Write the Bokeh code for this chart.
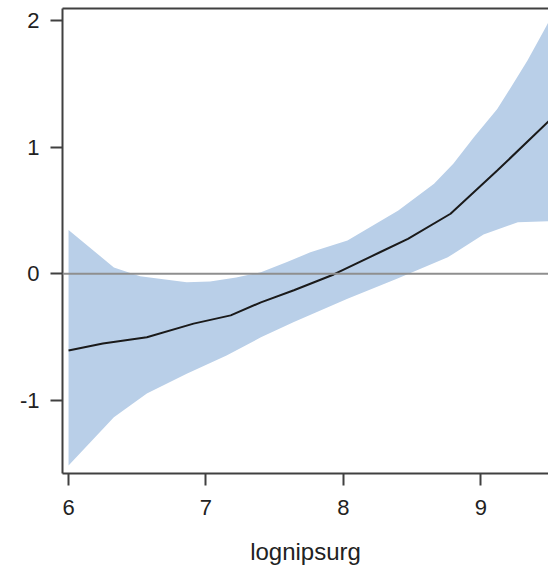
from bokeh.plotting import figure
from bokeh.models import Range1d, LinearAxis, FixedTicker, Span
from bokeh.embed import file_html
from bokeh.resources import INLINE

# Data
x_mean = [6.0, 6.25, 6.57, 6.91, 7.18, 7.40, 7.64, 7.93, 8.27, 8.47, 8.78, 9.12, 9.5]
y_mean = [-0.605, -0.55, -0.50, -0.393, -0.328, -0.225, -0.13, -0.005, 0.172, 0.276, 0.474, 0.815, 1.21]

x_upper = [6.0, 6.33, 6.52, 6.86, 7.03, 7.22, 7.40, 7.59, 7.76, 8.03, 8.40, 8.66, 8.80, 8.95, 9.12, 9.22, 9.34, 9.46, 9.5]
y_upper = [0.346, 0.05, -0.02, -0.067, -0.06, -0.03, 0.013, 0.093, 0.17, 0.263, 0.50, 0.711, 0.868, 1.078, 1.30, 1.473, 1.684, 1.92, 2.0]

x_lower = [6.0, 6.33, 6.57, 6.86, 7.15, 7.40, 7.64, 8.03, 8.39, 8.76, 9.02, 9.27, 9.5]
y_lower = [-1.513, -1.133, -0.945, -0.788, -0.645, -0.501, -0.38, -0.197, -0.039, 0.13, 0.31, 0.407, 0.415]

x_ticks = [6, 7, 8, 9]
y_ticks = [-1, 0, 1, 2]
y_tick_labels = {-1: "-1", 0: "0", 1: "1", 2: "2"}
x_label = "lognipsurg"

FONT = "Liberation Sans"
AXIS_COLOR = "#404040"

p = figure(width=548, height=570, output_backend="svg", toolbar_location=None,
           x_range=Range1d(5.956, 9.493), y_range=Range1d(-1.576, 2.094),
           x_axis_label=x_label, min_border_left=62, min_border_right=0,
           min_border_top=8, min_border_bottom=97)
p.outline_line_color = None
p.xgrid.visible = False
p.ygrid.visible = False
p.background_fill_color = "white"
p.border_fill_color = "white"

band_x = x_upper + x_lower[::-1]
band_y = y_upper + y_lower[::-1]
p.patch(band_x, band_y, fill_color="#B9CFE8", line_color=None)

zero = Span(location=0, dimension="width", line_color="#8f8f8f", line_width=2)
p.add_layout(zero)

p.line(x_mean, y_mean, line_color="#1a1a1a", line_width=2)

for ax in (p.xaxis[0], p.yaxis[0]):
    ax.axis_line_color = AXIS_COLOR
    ax.axis_line_width = 2
    ax.major_tick_line_color = AXIS_COLOR
    ax.major_tick_line_width = 2
    ax.major_tick_in = 0
    ax.minor_tick_line_color = None
    ax.major_label_text_font = FONT
    ax.major_label_text_font_size = "22px"
    ax.major_label_text_color = "#222222"

p.xaxis[0].ticker = FixedTicker(ticks=x_ticks)
p.yaxis[0].ticker = FixedTicker(ticks=y_ticks)
p.yaxis[0].major_label_overrides = y_tick_labels
p.xaxis[0].major_tick_out = 12
p.yaxis[0].major_tick_out = 12
p.xaxis[0].major_label_standoff = 14
p.yaxis[0].major_label_standoff = 11
p.xaxis[0].axis_label_text_font = FONT
p.xaxis[0].axis_label_text_font_size = "24px"
p.xaxis[0].axis_label_text_font_style = "normal"
p.xaxis[0].axis_label_text_color = "#222222"
p.xaxis[0].axis_label_standoff = 20

top_axis = LinearAxis(ticker=FixedTicker(ticks=[]), axis_line_color=AXIS_COLOR,
                      axis_line_width=2, major_tick_line_color=None,
                      minor_tick_line_color=None, major_label_text_font_size="0px",
                      major_tick_out=0, major_tick_in=0, major_label_standoff=0)
p.add_layout(top_axis, "above")

open("out.html", "w").write(file_html(p, INLINE))
